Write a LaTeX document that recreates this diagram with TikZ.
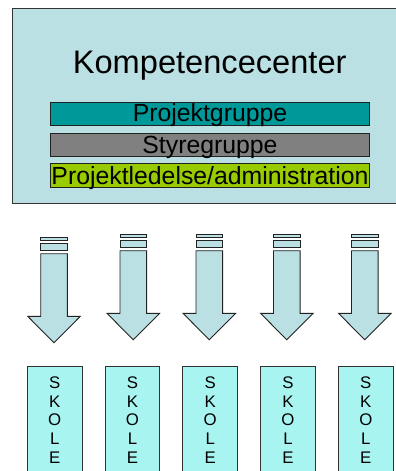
\documentclass[tikz,border=0pt]{standalone}
\usepackage{fontspec}
\setmainfont{Liberation Sans}
\definecolor{boxblue}{HTML}{BBE0E3}
\definecolor{pgcol}{HTML}{009999}
\definecolor{sgcol}{HTML}{808080}
\definecolor{plcol}{HTML}{99CC00}
\definecolor{skcol}{HTML}{A8F4F0}
\definecolor{edge}{HTML}{222222}
\tikzset{
  barbox/.style={draw=edge, line width=0.9pt, minimum width=319pt, minimum height=23.5pt, inner sep=0pt},
  bartext/.style={anchor=base, inner sep=0pt, font=\fontsize{24.8}{26}\selectfont},
  arrowshape/.style={fill=boxblue, draw=edge, line width=0.9pt, line join=miter},
  skolebox/.style={fill=skcol, draw=gray!40!black, line width=0.9pt},
  skoletext/.style={anchor=north, inner sep=0pt, align=center, font=\fontsize{16.8}{18.7}\selectfont}
}
\begin{document}
\begin{tikzpicture}[x=1pt,y=-1pt]
\useasboundingbox (0,0) rectangle (396,471);
% big box
\fill[boxblue] (12,8) rectangle (402,203);
\draw[line width=1pt, draw=gray!40!black] (402,8) -- (12,8) -- (12,203) -- (402,203);
\node[anchor=base, inner sep=0pt, font=\fontsize{32.6}{36}\selectfont] (title) at (209.7,73.3) {Kompetencecenter};
% bars
\node[barbox, fill=pgcol] (pg) at (210.3,114) {};
\node[barbox, fill=sgcol] (sg) at (210.3,145) {};
\node[barbox, fill=plcol] (pl) at (210.3,175.5) {};
\node[bartext] (pgt) at (210,121.7) {Projektgruppe};
\node[bartext] (sgt) at (210,153.3) {Styregruppe};
\node[bartext] (plt) at (210,184.3) {Projektledelse/administration};
% arrows
\foreach \cx/\dy [count=\i] in {54/3, 133.3/0, 209.3/0, 286.8/0, 364.8/0}{
  \begin{scope}[shift={(\cx,\dy)}]
    \draw[arrowshape] (-13.3,234.3) rectangle (13.3,237.7);
    \draw[arrowshape] (-13.3,240.7) rectangle (13.3,247.7);
    \draw[arrowshape] (-13.3,250.7) -- (13.3,250.7) -- (13.3,313.3) -- (26.3,313.3)
      -- (0,339.8) -- (-26.3,313.3) -- (-13.3,313.3) -- cycle;
    \coordinate (tip\i) at (0,339.8);
  \end{scope}
}
% schools
\foreach \cx [count=\i] in {54.7,132.5,210.2,288,365.8}{
  \draw[skolebox] (\cx-27.3,366) rectangle (\cx+27.3,480);
  \node[skoletext] (sk\i) at (\cx,376.4) {S\\K\\O\\L\\E};
}
\end{tikzpicture}
\end{document}
